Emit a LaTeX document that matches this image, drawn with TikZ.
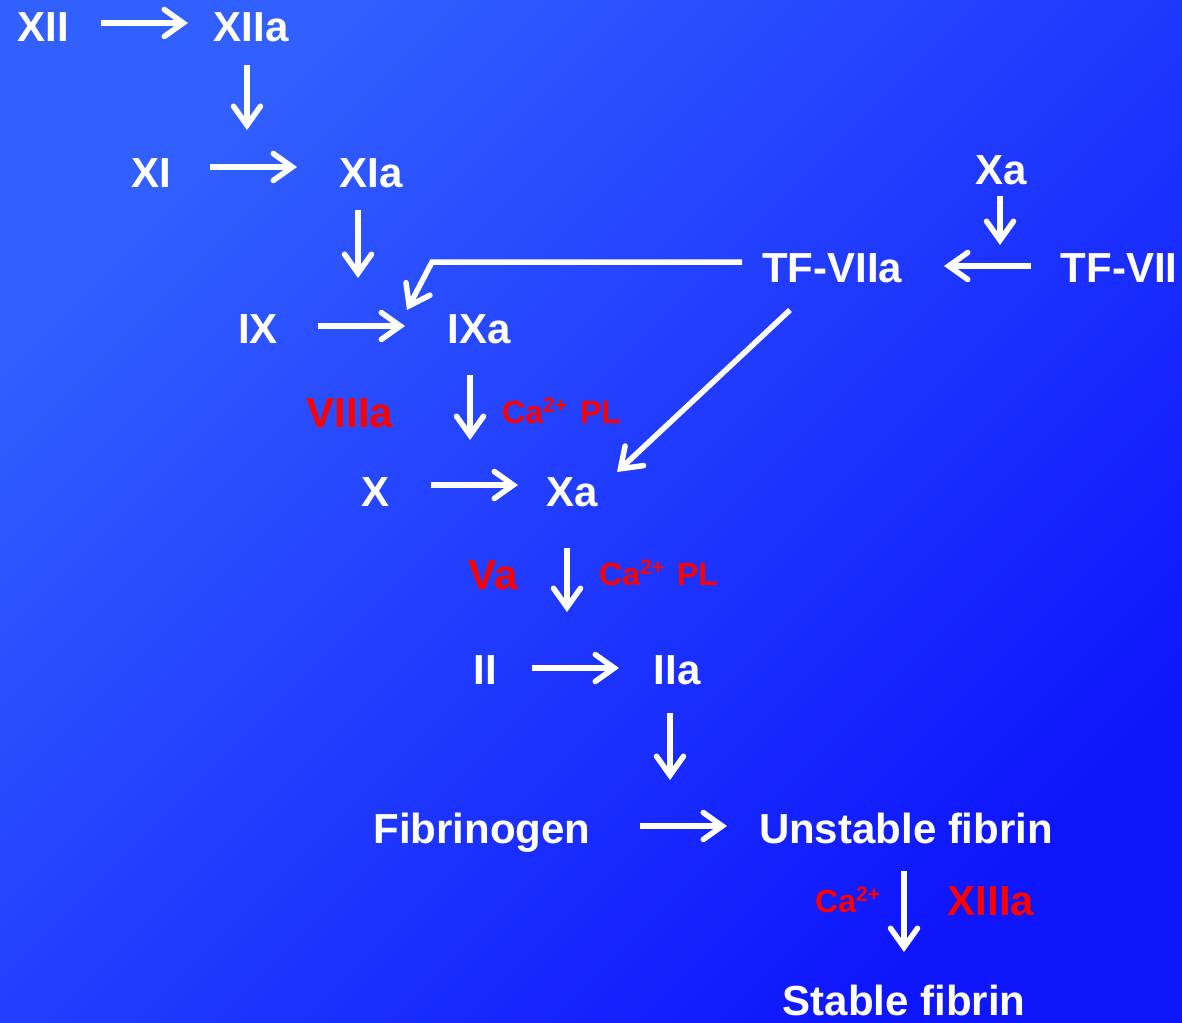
\documentclass[tikz,border=0pt]{standalone}
\usepackage{fontspec}
\setmainfont{Liberation Sans}
\usetikzlibrary{arrows.meta}
\definecolor{bgA}{RGB}{50,96,255}
\definecolor{bgB}{RGB}{14,22,252}
\definecolor{fred}{RGB}{255,0,0}
\newcommand\catwo{Ca\raisebox{11pt}{\fontsize{21}{21}\selectfont 2+}}
\tikzset{
  fac/.style={text=white, font=\fontsize{42}{50}\selectfont\bfseries, inner sep=0pt, anchor=base},
  redbig/.style={text=fred, font=\fontsize{42}{50}\selectfont\bfseries, inner sep=0pt, anchor=base},
  redsmall/.style={text=fred, font=\fontsize{32}{36}\selectfont\bfseries, inner sep=0pt, anchor=base west},
  arr/.style={draw=white, line width=5.5pt, -{Straight Barb[length=19pt,width=27pt,line width=5.5pt,line cap=round,line join=miter]}},
}
\begin{document}
\begin{tikzpicture}[x=1pt,y=-1pt]
\useasboundingbox (0,0) rectangle (1182,1022);
\shade[top color=bgA, bottom color=bgB, shading angle=45] (0,0) rectangle (1182,1022);

% factor nodes (anchor = base, centre of text)
\node[fac] (xii)   at (43,42)   {XII};
\node[fac] (xiia)  at (251,42)  {XIIa};
\node[fac] (xi)    at (151,187) {XI};
\node[fac] (xia)   at (371,187) {XIa};
\node[fac] (xat)   at (1001,184){Xa};
\node[fac] (tfviia) at (832,282){TF-VIIa};
\node[fac] (tfvii) at (1119,282){TF-VII};
\node[fac] (ix)    at (258,343) {IX};
\node[fac] (ixa)   at (479,343) {IXa};
\node[fac] (x)     at (376,506) {X};
\node[fac] (xa)    at (572,506) {Xa};
\node[fac] (ii)    at (485,684) {II};
\node[fac] (iia)   at (677,684) {IIa};
\node[fac] (fbg)   at (482,843) {Fibrinogen};
\node[fac] (ufib)  at (906,843) {Unstable fibrin};
\node[fac] (sfib)  at (904,1015){Stable fibrin};

% cofactors
\node[redbig] (viiia) at (350,427) {VIIIa};
\node[redbig] (va)    at (493,589) {Va};
\node[redbig] (xiiia) at (991,915) {XIIIa};
\node[redsmall] (capl1) at (502,423) {\catwo\hspace{13pt}PL};
\node[redsmall] (capl2) at (599,585) {\catwo\hspace{13pt}PL};
\node[redsmall] (ca3)   at (815,912) {\catwo};

% horizontal conversions
\draw[arr] ([shift={(58,-19)}]xii.base) -- ([shift={(-63,-19)}]xiia.base);
\draw[arr] ([shift={(59,-20)}]xi.base) -- ([shift={(-74,-20)}]xia.base);
\draw[arr] ([shift={(60,-17)}]ix.base) -- ([shift={(-74,-17)}]ixa.base);
\draw[arr] ([shift={(55,-21)}]x.base) -- ([shift={(-54,-21)}]xa.base);
\draw[arr] ([shift={(47,-16)}]ii.base) -- ([shift={(-58,-16)}]iia.base);
\draw[arr] ([shift={(158,-17)}]fbg.base) -- ([shift={(-179,-17)}]ufib.base);
\draw[arr] ([shift={(-88,-16)}]tfvii.base) -- ([shift={(112,-16)}]tfviia.base);

% vertical activations
\draw[arr] ([shift={(-4,23)}]xiia.base) -- ([shift={(96,-57)}]xi.base);
\draw[arr] ([shift={(-13,23)}]xia.base) -- ([shift={(-121,-65)}]ixa.base);
\draw[arr] ([shift={(-1,12)}]xat.base) -- ([shift={(168,-37)}]tfviia.base);
\draw[arr] ([shift={(-9,32)}]ixa.base) -- ([shift={(-102,-66)}]xa.base);
\draw[arr] ([shift={(-5,42)}]xa.base) -- ([shift={(82,-72)}]ii.base);
\draw[arr] ([shift={(-7,29)}]iia.base) -- ([shift={(-236,-63)}]ufib.base);
\draw[arr] ([shift={(-2,28)}]ufib.base) -- ([shift={(0,-63)}]sfib.base);

% extrinsic pathway
\draw[arr] ([shift={(-90,-20)}]tfviia.base) -- (432,262) -- ([shift={(-72,-33)}]ixa.base);
\draw[arr] ([shift={(-42,28)}]tfviia.base) -- ([shift={(45,-34)}]xa.base);
\end{tikzpicture}
\end{document}
